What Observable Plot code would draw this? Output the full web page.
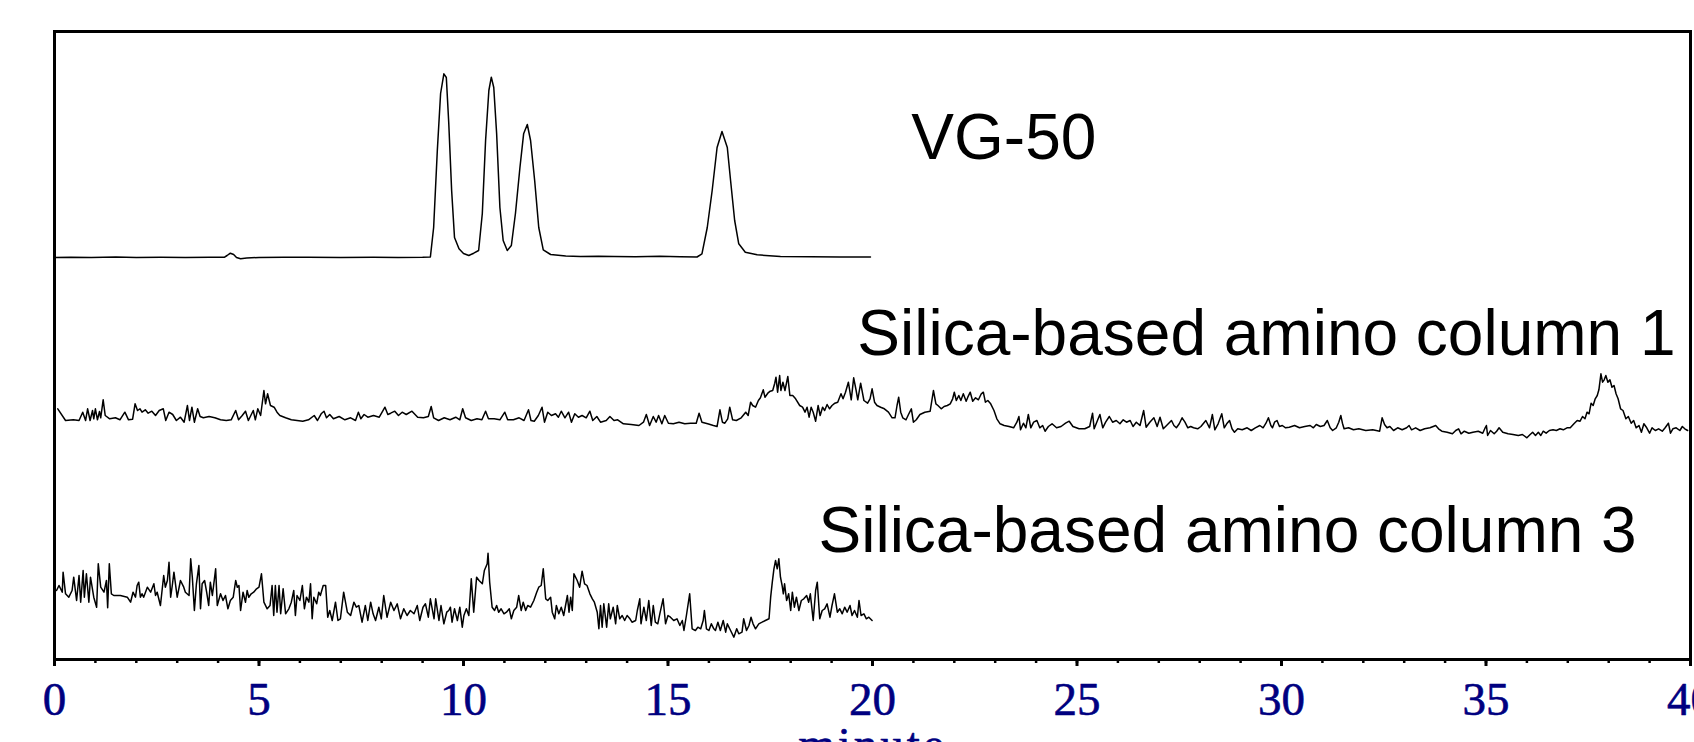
<!DOCTYPE html>
<html>
<head>
<meta charset="utf-8">
<script src="https://cdn.jsdelivr.net/npm/d3@7"></script>
<script src="https://cdn.jsdelivr.net/npm/@observablehq/plot@0.6"></script>
<style>
html, body { margin: 0; padding: 0; overflow: hidden; background: #fff; }
</style>
</head>
<body>
<div id="chart"></div>
<script>
// ---- data ----
const seriesNames = ["VG-50", "Silica-based amino column 1", "Silica-based amino column 3"];
// vertical stacking offset of each chromatogram (signal units)
const seriesOffsets = [402, 239, 59];
// label anchor (minutes, signal units) for each series name
const labelTimes = [20.95, 19.63, 18.68];
const labelLevels = [501, 305, 108];
const majorTicks = [0, 5, 10, 15, 20, 25, 30, 35, 40];
const minorTicks = [0,1,2,3,4,5,6,7,8,9,10,11,12,13,14,15,16,17,18,19,20,21,22,23,24,25,26,27,28,29,30,31,32,33,34,35,36,37,38,39,40];
const xTitle = "minute";

// [minute, signal above own baseline]
const vg50 = [[0,0],[0.4,0.3],[0.9,0.1],[1.5,0.4],[2,0],[2.6,0.2],[3.2,0],[3.8,0.3],[4.15,0.2],[4.22,2],[4.3,4.3],[4.38,3],[4.45,0],[4.55,-1.3],[4.7,-0.5],[5.0,0],[5.6,0.3],[6.2,0.2],[7,0],[7.8,0.2],[8.4,0],[9.0,0.2],[9.19,0.5],[9.27,30],[9.36,107],[9.44,164],[9.52,183.7],[9.58,180],[9.64,134],[9.71,67],[9.78,20],[9.89,8.7],[10.0,4],[10.13,2],[10.25,4.3],[10.37,7],[10.46,44],[10.54,117],[10.62,167],[10.68,180.3],[10.74,170],[10.81,124],[10.89,50],[10.97,17],[11.07,7],[11.17,12],[11.27,44],[11.38,90],[11.47,123.7],[11.56,133],[11.64,117],[11.74,77],[11.84,30],[11.95,7.7],[12.13,3],[12.5,1.5],[12.86,1],[13.3,1.3],[13.68,1],[14.2,0.8],[14.8,1.2],[15.3,0.7],[15.71,0.5],[15.83,3.7],[15.96,30],[16.08,67],[16.2,110],[16.32,126],[16.45,110],[16.53,77],[16.63,37],[16.73,13.7],[16.89,5.3],[17.18,2.7],[17.75,1],[18.5,0.7],[19.2,0.5],[19.95,0.5]];

const col1 = [[0.08,11.7],[0.27,0],[0.46,0.7],[0.60,0],[0.69,8.3],[0.76,0],[0.81,11.7],[0.87,0],[0.93,10],[0.96,1.7],[1.00,11.7],[1.05,0.7],[1.10,9],[1.13,2.7],[1.19,20.7],[1.24,5],[1.35,1.7],[1.49,2.7],[1.60,0.7],[1.72,8.3],[1.81,0.7],[1.91,1.3],[1.97,16.7],[2.03,10],[2.09,11.7],[2.14,8.3],[2.22,10.7],[2.29,7.3],[2.38,9.3],[2.47,5],[2.56,10],[2.66,11.7],[2.72,0],[2.80,8.3],[2.89,6],[2.98,0],[3.08,3.3],[3.17,-1.7],[3.25,15],[3.30,0],[3.36,13.3],[3.42,-1.7],[3.50,11.7],[3.56,4],[3.64,2.7],[3.78,4],[3.92,2.7],[4.06,0.7],[4.20,0],[4.32,0.7],[4.43,10],[4.50,0.7],[4.59,5],[4.67,9.3],[4.74,0],[4.86,10],[4.91,0.7],[4.97,11.7],[5.04,5],[5.12,30],[5.16,16.7],[5.21,26.7],[5.28,15],[5.37,13.3],[5.44,8.3],[5.51,5],[5.65,2.7],[5.79,0.7],[5.93,0],[6.07,-0.7],[6.21,0.7],[6.35,5],[6.43,0],[6.52,6.7],[6.59,9.3],[6.65,2.7],[6.73,6],[6.82,1.7],[6.96,4],[7.10,0.7],[7.24,2.7],[7.36,0],[7.43,8.3],[7.49,1.7],[7.57,6],[7.66,3.3],[7.80,5],[7.94,3.3],[8.08,13.3],[8.15,6],[8.22,7.3],[8.32,9.3],[8.41,5],[8.50,8.3],[8.60,6],[8.74,9.3],[8.88,3.3],[9.02,2.7],[9.14,4],[9.21,14],[9.27,2.7],[9.39,0],[9.53,2.7],[9.67,0.7],[9.81,3.3],[9.91,0.7],[9.98,11.7],[10.05,2.7],[10.19,0],[10.33,1.7],[10.45,0.7],[10.54,9.3],[10.61,1.7],[10.75,1.7],[10.89,0.7],[11.01,8.3],[11.08,0.7],[11.22,0.7],[11.36,2.7],[11.48,0],[11.59,10.7],[11.65,0],[11.73,-0.7],[11.83,5],[11.92,13.3],[11.98,-1.7],[12.06,8.3],[12.15,5],[12.25,6.7],[12.32,3.3],[12.39,9.3],[12.48,2.7],[12.57,8.3],[12.64,-1.7],[12.72,6.7],[12.81,3.3],[12.90,5],[13.00,2.7],[13.09,9.3],[13.16,0],[13.26,4],[13.35,-1.7],[13.49,0],[13.58,4],[13.68,0],[13.77,0.7],[13.91,-3.3],[14.10,-4],[14.29,-5],[14.40,-1.7],[14.47,6],[14.55,-5],[14.64,4],[14.71,-1.7],[14.77,5],[14.85,-3.3],[14.92,5],[15.01,-2.7],[15.13,-3.3],[15.27,-1.7],[15.41,-3.3],[15.55,-2.7],[15.69,-2.7],[15.76,7.3],[15.83,-1.7],[15.97,-3.3],[16.11,-5],[16.20,-6],[16.27,10.7],[16.33,-1.7],[16.39,-2.7],[16.46,1.7],[16.51,13.3],[16.58,0.7],[16.67,0],[16.79,2.7],[16.90,8.3],[16.96,5],[17.02,18.3],[17.07,15],[17.14,13.3],[17.21,20],[17.26,22.7],[17.33,30.7],[17.37,23.3],[17.44,27.3],[17.50,29.3],[17.56,30],[17.61,37.3],[17.64,43.3],[17.68,28.3],[17.73,45],[17.76,30],[17.81,38.3],[17.86,30],[17.93,44],[17.98,25],[18.05,25],[18.12,21.7],[18.22,15],[18.29,13.3],[18.35,8.3],[18.40,13.3],[18.45,3.3],[18.50,13.3],[18.55,8.3],[18.61,-0.7],[18.67,15],[18.72,5],[18.78,13.3],[18.83,10],[18.89,16],[18.95,11.7],[19.01,15],[19.08,17.3],[19.15,18.3],[19.23,26.7],[19.28,21.7],[19.34,28.3],[19.41,38.3],[19.48,20.7],[19.54,42.7],[19.60,30],[19.64,20.7],[19.71,37.3],[19.79,20],[19.88,17.3],[19.94,21.7],[19.99,31.7],[20.05,18.3],[20.11,15],[20.20,13.3],[20.29,11.7],[20.39,8.3],[20.48,2.7],[20.55,2.7],[20.60,15],[20.64,23.3],[20.69,8.3],[20.74,2.7],[20.82,0.7],[20.88,6],[20.95,11.7],[21.00,-1.7],[21.07,0.7],[21.16,6],[21.28,8.3],[21.41,9.3],[21.49,30],[21.55,16.7],[21.60,15],[21.68,11.7],[21.75,14],[21.83,15],[21.90,16.7],[21.96,21.7],[22.00,28.3],[22.05,20],[22.11,25],[22.16,20],[22.22,26.7],[22.29,19.3],[22.33,23.3],[22.39,28.3],[22.45,19.3],[22.52,22.7],[22.59,20.7],[22.66,26.7],[22.71,28.3],[22.76,18.3],[22.82,20],[22.89,16.7],[22.97,10],[23.04,1.7],[23.12,-3.3],[23.22,-5],[23.34,-6],[23.45,-7.3],[23.53,-1.7],[23.58,4],[23.62,-9.3],[23.69,-2.7],[23.75,-7.3],[23.81,6],[23.87,-7.3],[23.94,-1.7],[24.02,0],[24.09,-7.3],[24.16,-5],[24.22,-10.7],[24.30,-6],[24.39,-3.3],[24.50,-7.3],[24.61,-6],[24.72,-2.7],[24.81,-0.7],[24.90,-6],[25.05,-8.3],[25.19,-8.3],[25.31,-6],[25.38,7.3],[25.42,-8.3],[25.50,0],[25.56,6],[25.63,-7.3],[25.70,-1.7],[25.79,4],[25.87,-1.7],[25.96,0],[26.05,-3.3],[26.13,0.7],[26.21,-1.7],[26.30,0],[26.37,-6],[26.45,-1.7],[26.54,-5],[26.63,10],[26.69,-6.7],[26.78,-1.7],[26.88,2.7],[26.96,-6],[27.03,3.3],[27.11,-8.3],[27.19,-5],[27.31,0],[27.37,-5],[27.43,-7.3],[27.50,-3.3],[27.57,2.7],[27.64,-1.7],[27.71,-7.3],[27.78,-6],[27.85,-7.3],[27.95,-8.3],[28.03,-6],[28.15,0],[28.24,-7.3],[28.31,6],[28.37,-9.3],[28.45,-3.3],[28.54,6.7],[28.60,-7.3],[28.66,-3.3],[28.73,0],[28.79,-8.3],[28.85,-11.7],[28.93,-8.3],[29.04,-9.3],[29.16,-7.3],[29.26,-10],[29.36,-7.3],[29.47,-5],[29.55,-7.3],[29.62,-2.7],[29.68,2.7],[29.74,-5],[29.78,-7.3],[29.83,-1.7],[29.89,0],[29.95,-6],[30.02,-5],[30.10,-7.3],[30.19,-6.7],[30.32,-5],[30.44,-7.3],[30.57,-6],[30.70,-5],[30.78,-7.3],[30.85,-4],[30.95,-6],[31.04,-5],[31.12,0],[31.19,-7.3],[31.25,-10],[31.34,-7.3],[31.40,-1.7],[31.45,5],[31.49,-2.7],[31.53,-8.3],[31.64,-7.3],[31.76,-9.3],[31.89,-8.3],[32.06,-10],[32.23,-9.3],[32.40,-10.7],[32.46,2.7],[32.52,-4],[32.58,-7.3],[32.65,-6],[32.74,-10],[32.84,-7.3],[32.95,-9.3],[33.06,-7.3],[33.12,-5],[33.18,-9.3],[33.28,-7.3],[33.39,-10],[33.50,-8.3],[33.63,-7.3],[33.71,-6],[33.77,-5],[33.84,-8.3],[33.92,-10.7],[34.05,-11.7],[34.18,-13.3],[34.26,-10],[34.33,-8.3],[34.39,-13.3],[34.47,-10.7],[34.58,-12.7],[34.68,-11.7],[34.81,-10.7],[34.92,-12.7],[34.98,-7.3],[35.01,-5],[35.04,-15],[35.11,-10],[35.20,-13.3],[35.26,-10.7],[35.32,-7.3],[35.41,-11.7],[35.54,-13.3],[35.66,-14],[35.79,-15],[35.89,-14],[36.00,-17.3],[36.08,-14],[36.14,-11.7],[36.21,-15],[36.28,-11.7],[36.34,-15],[36.40,-10.7],[36.47,-12.7],[36.55,-10],[36.64,-9.3],[36.72,-10],[36.81,-8.3],[36.89,-9.3],[36.98,-7.3],[37.06,-7.3],[37.15,-3.3],[37.23,0],[37.30,-0.7],[37.36,4],[37.42,1.7],[37.47,8.3],[37.52,6.7],[37.57,17.3],[37.62,15],[37.67,21.7],[37.72,25],[37.76,30.7],[37.81,46.7],[37.85,38.3],[37.89,40.7],[37.93,45],[37.98,38.3],[38.03,40.7],[38.08,33.3],[38.13,35],[38.18,26.7],[38.23,21.7],[38.29,11.7],[38.35,10],[38.42,1.7],[38.48,4],[38.55,-2.7],[38.61,0],[38.67,-7.3],[38.74,-5],[38.80,-11.7],[38.86,-3.3],[38.93,-7.3],[39.00,-12.7],[39.06,-7.3],[39.14,-10],[39.22,-8.3],[39.31,-10.7],[39.38,-7.3],[39.46,-2.7],[39.51,-12.7],[39.57,-8.3],[39.65,-7.3],[39.74,-10],[39.80,-6],[39.86,-8.3],[39.93,-10]];

const col3 = [[0.05,10],[0.11,15],[0.19,8.3],[0.21,28.3],[0.27,6.7],[0.35,3.3],[0.43,10],[0.47,23.3],[0.54,0],[0.60,25],[0.64,-1.7],[0.70,30],[0.73,3.3],[0.78,26.7],[0.84,-1.7],[0.88,23.3],[0.96,3.3],[1.03,-6.7],[1.07,36.7],[1.13,13.3],[1.21,8.3],[1.27,20],[1.30,-7.3],[1.34,36.7],[1.39,6.7],[1.45,5],[1.61,5],[1.78,3.3],[1.86,-1.7],[1.92,8.3],[1.98,3.3],[2.02,15],[2.06,18.3],[2.10,3.3],[2.14,6.7],[2.18,3.3],[2.27,13.3],[2.35,8.3],[2.43,16.7],[2.47,5],[2.51,8.3],[2.59,-5],[2.67,25],[2.71,13.3],[2.76,20],[2.80,38.3],[2.84,3.3],[2.88,15],[2.92,28.3],[3.00,3.3],[3.08,20],[3.16,13.3],[3.20,8.3],[3.29,5],[3.33,41.7],[3.37,23.3],[3.42,-10],[3.47,16.7],[3.53,35],[3.57,-8.3],[3.61,16.7],[3.67,20],[3.72,8.3],[3.77,-5],[3.81,18.3],[3.86,5],[3.94,31.7],[3.98,-5],[4.06,6.7],[4.12,0],[4.18,5],[4.24,-8.3],[4.30,0],[4.37,3.3],[4.43,20],[4.47,13.3],[4.51,15],[4.55,-10],[4.61,8.3],[4.67,-1.7],[4.71,10],[4.75,3.3],[4.81,6.7],[4.87,8.3],[4.94,11.7],[5.00,13.3],[5.06,26.7],[5.12,-1.7],[5.20,-8.3],[5.27,-5],[5.32,15],[5.36,-15],[5.40,15],[5.44,-11.7],[5.49,15],[5.53,-13.3],[5.59,11.7],[5.65,-13.3],[5.73,-8.3],[5.79,-1.7],[5.85,10],[5.89,-15],[5.93,5],[6.00,0],[6.06,15],[6.11,-8.3],[6.16,3.3],[6.22,-1.7],[6.26,16.7],[6.30,-18.3],[6.34,3.3],[6.41,-3.3],[6.46,8.3],[6.50,5],[6.57,15],[6.63,15],[6.68,-16.7],[6.73,-10],[6.79,-20],[6.87,-1.7],[6.93,-20],[6.99,-18.3],[7.07,8.3],[7.16,-11.7],[7.24,-15],[7.32,-1.7],[7.38,-6.7],[7.44,-5],[7.52,-21.7],[7.60,-5],[7.66,-20],[7.73,-1.7],[7.79,-13.3],[7.85,-20],[7.93,-6.7],[7.99,-18.3],[8.05,5],[8.13,-16.7],[8.22,-1.7],[8.30,-10],[8.38,-3.3],[8.46,-18.3],[8.54,-8.3],[8.62,-15],[8.70,-10],[8.79,-13.3],[8.87,-5],[8.93,-20],[9.01,-6.7],[9.07,-3.3],[9.14,-16.7],[9.19,1.7],[9.28,-18.3],[9.32,1.7],[9.40,-20],[9.45,-5],[9.52,-23.3],[9.59,-11.7],[9.64,-10],[9.68,-6.7],[9.72,-21.7],[9.78,-8.3],[9.85,-20],[9.91,-6.7],[9.97,-26.7],[10.01,-15],[10.07,-8.3],[10.13,-15],[10.19,21.7],[10.25,-11.7],[10.32,23.3],[10.38,20],[10.46,16.7],[10.51,30],[10.58,36.7],[10.60,47.3],[10.64,18.3],[10.70,-6.7],[10.76,-10],[10.81,-5],[10.86,-11.7],[10.92,-8.3],[10.99,-13.3],[11.05,-11.7],[11.12,-8.3],[11.17,-18.3],[11.23,-10],[11.30,-6.7],[11.35,5],[11.41,-10],[11.46,-1.7],[11.52,-10],[11.57,-5],[11.64,-6.7],[11.72,0],[11.79,8.3],[11.84,13.3],[11.90,15],[11.95,31.7],[12.01,1.7],[12.06,0],[12.13,3.3],[12.17,-11.7],[12.23,-18.3],[12.27,-5],[12.33,-13.3],[12.39,-6.7],[12.45,-15],[12.54,5],[12.58,-11.7],[12.62,3.3],[12.66,-10],[12.70,26.7],[12.78,20],[12.84,13.3],[12.90,29.3],[12.96,16.7],[13.02,15],[13.09,6.7],[13.15,1.7],[13.20,-1.7],[13.27,-11.7],[13.31,-28.3],[13.35,-5],[13.39,-26.7],[13.43,-3.3],[13.50,-26.7],[13.55,-3.3],[13.59,-18.3],[13.66,-6.7],[13.72,-23.3],[13.76,-5],[13.82,-18.3],[13.88,-15],[13.94,-20],[14.00,-15],[14.07,-18.3],[14.12,-21.7],[14.21,-20],[14.25,-10],[14.31,1.7],[14.34,-23.3],[14.41,-6.7],[14.47,-20],[14.53,0],[14.59,-25],[14.64,-5],[14.69,-21.7],[14.75,-23.3],[14.80,-13.3],[14.88,1.7],[14.94,-23.3],[15.00,-15],[15.06,-16.7],[15.14,-20],[15.22,-18.3],[15.29,-25],[15.35,-20],[15.39,-30],[15.45,-15],[15.53,6.7],[15.59,-28.3],[15.67,-30],[15.73,-26.7],[15.80,-28.3],[15.86,-20],[15.89,-10],[15.94,-28.3],[16.00,-30],[16.06,-23.3],[16.12,-28.3],[16.16,-30],[16.22,-21.7],[16.28,-30],[16.35,-20],[16.41,-31.7],[16.45,-23.3],[16.53,-30],[16.61,-36.7],[16.68,-28.3],[16.73,-33.3],[16.81,-31.7],[16.85,-18.3],[16.92,-30],[16.98,-25],[17.03,-16.7],[17.08,-23.3],[17.14,-28.3],[17.22,-23.3],[17.30,-21.7],[17.38,-20],[17.47,-18.3],[17.51,3.3],[17.55,18.3],[17.59,31.7],[17.63,40],[17.67,31.7],[17.71,41.7],[17.75,23.3],[17.79,15],[17.82,6.7],[17.85,16.7],[17.90,0],[17.95,6.7],[18.00,-10],[18.04,8.3],[18.09,-6.7],[18.14,3.3],[18.20,-10],[18.26,0],[18.32,1.7],[18.39,5],[18.44,-1.7],[18.48,6.7],[18.55,-20],[18.61,10],[18.65,18.3],[18.71,-18.3],[18.77,-10],[18.83,-8.3],[18.89,-3.3],[18.96,-16.7],[19.01,-5],[19.07,6.7],[19.14,-11.7],[19.20,-8.3],[19.26,-13.3],[19.32,-6.7],[19.38,-11.7],[19.45,-5],[19.50,-15],[19.56,-10],[19.63,-16.7],[19.67,0],[19.72,-15],[19.79,-13.3],[19.85,-18.3],[19.91,-16.7],[19.99,-20]];

// ---- build tables for the library ----
const traces = [vg50, col1, col3];
const rows = traces.flatMap((tr, i) => tr.map(([t, v]) => ({series: seriesNames[i], t, v: v + seriesOffsets[i]})));
const labels = seriesNames.map((name, i) => ({name, t: labelTimes[i], v: labelLevels[i]}));

const W = 1694, H = 775, bottomY = 659;
const navy = "#000080";
const chart = Plot.plot({
  width: W,
  height: H,
  marginLeft: 54,
  marginRight: 4,
  marginTop: 31,
  marginBottom: H - bottomY,
  x: {domain: [0, 40], axis: null},
  y: {domain: [0, 628], axis: null},
  style: {background: "white", overflow: "visible"},
  marks: [
    Plot.axisX(minorTicks, {anchor: "bottom", tickSize: 4, stroke: "black", strokeWidth: 2.5, fill: "none", label: null}),
    Plot.axisX(majorTicks, {anchor: "bottom", tickSize: 7, stroke: "black", strokeWidth: 3, tickPadding: 15,
      tickFormat: d => String(d), fontSize: 47, fontFamily: "Liberation Serif", fill: navy,
      textStroke: navy, textStrokeWidth: 0.6, label: null}),
    Plot.frame({stroke: "black", strokeWidth: 3}),
    Plot.line(rows, {x: "t", y: "v", z: "series", stroke: "black", strokeWidth: 1.5}),
    Plot.text(labels, {x: "t", y: "v", text: "name", textAnchor: "start", lineAnchor: "bottom", fontSize: 64, fontFamily: "Liberation Sans", fill: "black"}),
    Plot.text([xTitle], {text: d => d, frameAnchor: "bottom", dy: 100, lineAnchor: "bottom", fontSize: 47, fontFamily: "Liberation Serif", fill: navy, stroke: navy, strokeWidth: 0.6})
  ]
});
// the axis title in the reference is set with wider letter spacing
d3.select(chart).selectAll("text").filter(function () { return this.textContent === xTitle; })
  .attr("letter-spacing", 3);
document.getElementById("chart").appendChild(chart);
</script>
</body>
</html>
